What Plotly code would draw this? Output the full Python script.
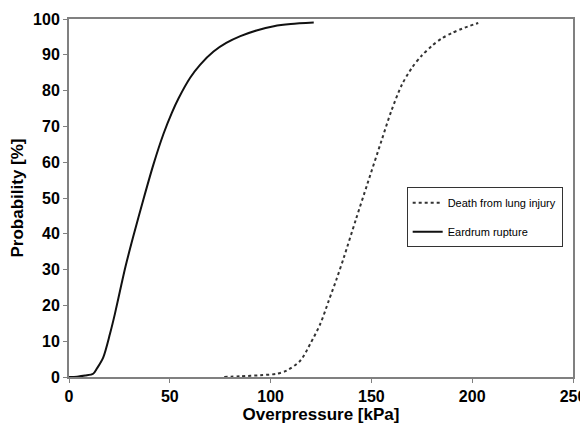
import plotly.graph_objects as go

# Eardrum rupture (solid)
ear_x = [0, 4, 8, 12, 14, 17, 20.3, 22.8, 26.1, 28, 32, 36.9, 41.9, 46.8, 51, 54.3,
         60.1, 65, 71.7, 78, 85, 93, 101.6, 110, 121.4]
ear_y = [0, 0.1, 0.4, 0.9, 2.5, 5.5, 12, 17.7, 26.1, 30.8, 39.5, 49.6, 59.4, 67.8, 73.8, 77.8,
         83.6, 87.2, 90.9, 93.3, 95.2, 96.8, 98.0, 98.6, 99.0]

# Death from lung injury (dotted)
lung_x = [77, 85, 95, 103, 108, 114.8, 119.7, 124.7, 128.9, 132.7, 136.4, 142.3, 148.1,
          155, 160, 165, 170, 175, 180, 185, 190, 195, 203]
lung_y = [0, 0.2, 0.5, 0.9, 1.8, 4.6, 9.3, 14.9, 21.4, 27.3, 33.5, 44.0, 54.1,
          66.0, 74.5, 81.5, 86.3, 89.8, 92.5, 94.6, 96.1, 97.3, 98.9]

x_ticks = [0, 50, 100, 150, 200, 250]
y_ticks = [0, 10, 20, 30, 40, 50, 60, 70, 80, 90, 100]

FONT = "Liberation Sans, Arial, sans-serif"

fig = go.Figure()
fig.add_trace(go.Scatter(x=lung_x, y=lung_y, mode="lines", name="Death from lung injury",
                         legendgroup="a",
                         line=dict(color="#333333", width=2, dash="dot", shape="spline", smoothing=0.8)))
fig.add_trace(go.Scatter(x=ear_x, y=ear_y, mode="lines", name="Eardrum rupture",
                         legendgroup="b",
                         line=dict(color="#111111", width=2, shape="spline", smoothing=0.8)))

axis_common = dict(showgrid=False, zeroline=False, showline=True, linecolor="#808080",
                   linewidth=2, mirror=True, ticks="outside", ticklen=4, tickcolor="#808080",
                   tickfont=dict(family=FONT, size=16, color="black", weight="bold"))

fig.update_xaxes(range=[0, 250], tickvals=x_ticks,
                 title=dict(text="Overpressure [kPa]", standoff=4,
                            font=dict(family=FONT, size=17, color="black", weight="bold")),
                 **axis_common)
fig.update_yaxes(range=[0, 100], tickvals=y_ticks,
                 title=dict(text="Probability [%]", standoff=8,
                            font=dict(family=FONT, size=17, color="black", weight="bold")),
                 **axis_common)

# page body has an 8px margin, so the figure is sized/placed to compensate
fig.update_layout(
    width=580, height=417,
    margin=dict(l=61, r=15, t=11, b=48, autoexpand=False),
    paper_bgcolor="white", plot_bgcolor="white",
    showlegend=True,
    legend=dict(x=0.67, y=0.53, xanchor="left", yanchor="top",
                bgcolor="white", bordercolor="#333333", borderwidth=1,
                font=dict(family=FONT, size=11, color="black"),
                tracegroupgap=10, itemwidth=30),
)

fig.write_html("out.html")
